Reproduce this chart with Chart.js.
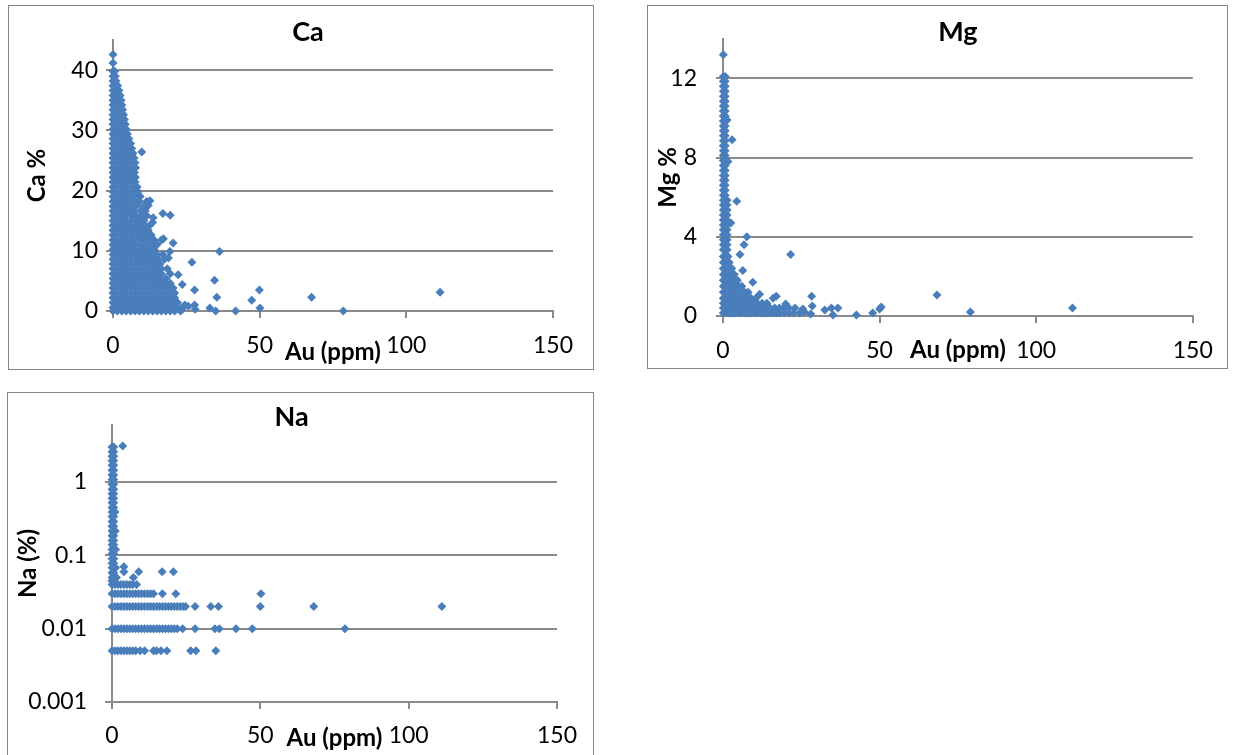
<!DOCTYPE html>
<html>
<head>
<meta charset="utf-8">
<script src="https://cdn.jsdelivr.net/npm/chart.js@4"></script>
<style>
  body { margin: 0; background: #fff; width: 1233px; height: 755px; overflow: hidden; position: relative; }
  .box { position: absolute; border: 1px solid #868686; box-sizing: border-box; }
  canvas { position: absolute; }
</style>
</head>
<body>
<div class="box" style="left:8px;top:5px;width:586px;height:365px"></div>
<div class="box" style="left:647px;top:5px;width:581px;height:364px"></div>
<div class="box" style="left:7px;top:392px;width:587px;height:370px"></div>
<canvas id="ca-chart" width="584" height="363" style="left:9px;top:6px"></canvas>
<canvas id="mg-chart" width="579" height="362" style="left:648px;top:6px"></canvas>
<canvas id="na-chart" width="585" height="363" style="left:8px;top:393px"></canvas>
<script>
// x axis (Au ppm), shared by all three panels
const auMin = 0;
const auMax = 150;
const auStep = 50;

// Ca % : dense part read row by row -> [Ca %, [Au ppm ...]]
const caRows = [
  [39.8, [0, 0.6]],
  [39.0, [0, 0.8]],
  [38.2, [0, 1]],
  [37.4, [0, 1, 1.6]],
  [36.6, [0, 1, 2]],
  [35.8, [0, 1.2, 2.4]],
  [35.0, [0, 1.5, 2.8]],
  [34.2, [0, 1.5, 3]],
  [33.4, [0, 1.5, 3.3]],
  [32.6, [0, 1.5, 3, 3.6]],
  [31.8, [0, 1.5, 3, 3.9]],
  [31.0, [0, 1.5, 3, 4.2]],
  [30.2, [0, 1.5, 3, 4.5]],
  [29.4, [0, 1.5, 3, 4.5, 4.9]],
  [28.6, [0, 1.5, 3, 4.5, 5.4]],
  [27.8, [0, 1.5, 3, 4.5, 6]],
  [27.0, [0, 1.5, 3, 4.5, 6, 6.4]],
  [26.2, [0, 1.5, 3, 4.5, 6, 6.8]],
  [25.4, [0, 1.5, 3, 4.5, 6, 7.2]],
  [24.6, [0, 1.5, 3, 4.5, 6, 7.5]],
  [23.8, [0, 1.5, 3, 4.5, 6, 7.7]],
  [23.0, [0, 1.5, 3, 4.5, 6, 7.3]],
  [22.2, [0, 1.5, 3, 4.5, 6, 7.6]],
  [21.4, [0, 1.5, 3, 4.5, 6, 7.5]],
  [20.6, [0, 1.5, 3, 4.5, 6, 7.5, 8.2]],
  [19.8, [0, 1.5, 3, 4.5, 6, 7.5, 8.5]],
  [19.0, [0, 1.5, 3, 4.5, 6, 7.5, 9.3]],
  [18.2, [0, 1.5, 3, 4.5, 6, 7.5, 9, 11.5]],
  [17.4, [0, 1.5, 3, 4.5, 6, 8, 10.5]],
  [16.6, [0, 1.5, 3, 4.5, 5.5, 7, 9.5, 11]],
  [15.8, [0, 1.5, 3, 4.5, 6.5, 8, 10, 11.5]],
  [15.0, [0, 1.5, 3, 4.5, 6, 7.5, 9, 10.5]],
  [14.2, [0, 1.5, 3, 4.5, 6, 8, 9.5, 11, 12.5]],
  [13.4, [0, 1.5, 3, 4.5, 5.5, 7, 9, 10.5, 12]],
  [12.6, [0, 1.5, 3, 4.5, 6, 7.5, 8.5, 10, 11.5, 13]],
  [11.8, [0, 1.5, 3, 4.5, 6, 7, 9, 10.5, 12, 14, 16.5]],
  [11.0, [0, 1.5, 3, 4.5, 6, 7.5, 9, 10.5, 12, 13.5, 15]],
  [10.2, [0, 1.5, 3, 4.5, 6, 7.5, 9.5, 11, 12.5, 14]],
  [9.4, [0, 1.5, 3, 4.5, 6, 7.5, 9, 10.5, 12, 13.5, 15, 17]],
  [8.6, [0, 1.5, 3, 4.5, 6, 8, 9.5, 11, 12.5, 14, 15.5, 17.5]],
  [7.8, [0, 1.5, 3, 4.5, 6, 7.5, 9, 10.5, 12, 13, 14.5, 16]],
  [7.0, [0, 1.5, 3, 4.5, 6, 7.5, 9, 10.5, 12, 13.5, 15, 16.5, 18.5]],
  [6.2, [0, 1.5, 3, 4.5, 6, 7.5, 9, 10.5, 12, 13.5, 15, 16.5, 19.5]],
  [5.4, [0, 1.5, 3, 4.5, 6, 7.5, 9, 10.5, 12, 13.5, 15, 16.5, 18]],
  [4.6, [0, 1.5, 3, 4.5, 6, 7.5, 9, 10.5, 12, 13.5, 15, 16.5, 18, 19.5]],
  [3.8, [0, 1.5, 3, 4.5, 6, 7.5, 9, 10.5, 12, 13.5, 15, 16.5, 18, 19.5, 20.5]],
  [3.0, [0, 1.5, 3, 4.5, 6, 7.5, 9, 10.5, 12, 13.5, 15, 16.5, 18, 19.5, 21]],
  [2.2, [0, 1.5, 3, 4.5, 6, 7.5, 9, 10.5, 12, 13.5, 15, 16.5, 18, 19.5, 21]],
  [1.4, [0, 1.5, 3, 4.5, 6, 7.5, 9, 10.5, 12, 13.5, 15, 16.5, 18, 19.5, 21, 22]],
  [0.6, [0, 1.5, 3, 4.5, 6, 7.5, 9, 10.5, 12, 13.5, 15, 16.5, 18, 19.5, 21, 22.5]],
  [0.0, [0, 1.5, 3, 4.5, 6, 7.5, 9, 10.5, 12, 13.5, 15, 16.5, 18, 19.5, 21, 23]],
];
// Ca % : single scattered points [Au ppm, Ca %]
const caOther = [
  [0, 42.6], [0, 41.2], [9.8, 26.4], [12.6, 18.3], [12, 17.5], [17, 16.2], [19.5, 15.9],
  [13.7, 15.5], [13.5, 14.7], [17.2, 12], [20.5, 11.3], [19.4, 9.9], [18.9, 8.8], [26.9, 8.1],
  [22.2, 6], [23.6, 4.4], [27.8, 3.5], [34.6, 5.1], [35.4, 2.3], [36.3, 9.9], [33, 0.5],
  [35, 0], [41.8, 0], [47.3, 1.8], [49.9, 3.5], [50.1, 0.5], [67.7, 2.3], [78.5, 0],
  [111.5, 3.1], [25.7, 0.8], [27.8, 1], [28, 0.3], [23.5, 0.2], [24.5, 1],
];
const caMax = 45;
const caStep = 10;

// Mg % : dense part [Mg %, [Au ppm ...]]
const mgRows = [
  [12.1, [0.1, 0.7]], [11.85, [0.1, 0.7]], [11.6, [0.1, 0.7]], [11.35, [0.1, 0.7]],
  [11.1, [0.1, 0.7]], [10.85, [0.1, 0.7]], [10.6, [0.1, 0.7]], [10.35, [0.1, 0.7]],
  [10.1, [0.1, 0.7]], [9.85, [0.1, 0.7]], [9.6, [0.1, 0.7]], [9.35, [0.1, 0.7]],
  [9.1, [0.1, 0.7]], [8.85, [0.1, 0.7]], [8.6, [0.1, 0.7]], [8.35, [0.1, 0.7]],
  [8.1, [0.1, 0.7]], [7.85, [0.1, 0.7]], [7.6, [0.1, 0.7]], [7.35, [0.1, 0.7]],
  [7.1, [0.1, 0.7]], [6.85, [0.1, 0.7]], [6.6, [0.1, 0.7]], [6.35, [0.1, 0.7]],
  [6.1, [0.1, 0.7]], [5.85, [0.1, 0.7, 1.3]], [5.6, [0.1, 0.7, 1.3]], [5.35, [0.1, 0.7, 1.3]],
  [5.1, [0.1, 0.7, 1.3]], [4.85, [0.1, 0.7, 1.3]], [4.6, [0.1, 0.7, 1.3]], [4.35, [0.1, 0.7, 1.3]],
  [4.1, [0.1, 0.7, 1.3]], [3.85, [0.1, 0.7, 1.3]], [3.6, [0.1, 0.7, 1.3]], [3.35, [0.1, 0.7, 1.3]],
  [3.0, [0.1, 0.8, 1.6]],
  [2.7, [0.1, 1, 2]],
  [2.4, [0.1, 1, 2, 2.8]],
  [2.1, [0.1, 1, 2, 3, 3.6]],
  [1.8, [0.1, 1, 2, 3, 4, 4.6]],
  [1.5, [0.1, 1, 2, 3, 4, 5, 6]],
  [1.2, [0.1, 1, 2, 3, 4, 5, 6, 7, 8]],
  [0.9, [0.1, 1, 2, 3, 4, 5, 6, 7, 8, 9, 10.5]],
  [0.65, [0.1, 1, 2, 3, 4, 5, 6, 7, 8, 9, 10, 11, 12.5, 14]],
  [0.4, [0.1, 1, 2, 3, 4, 5, 6, 7, 8, 9, 10, 11, 12, 13, 14, 15, 16.5, 18, 19.5, 21, 23]],
  [0.15, [0.1, 1, 2, 3, 4, 5, 6, 7, 8, 9, 10, 11, 12, 13, 14, 15, 16, 17, 18, 19.5, 21, 22.5, 24.5]],
];
const mgOther = [
  [0.1, 13.2], [2.9, 8.9], [1.3, 9.9], [1.6, 7.8], [4.4, 5.8], [2.5, 4.7],
  [7.6, 4.0], [6.7, 3.6], [5.4, 3.1], [21.6, 3.1], [6.3, 2.3], [9.5, 1.7],
  [11.7, 1.1], [17, 1.0], [28.3, 1.0], [68.3, 1.06], [34.6, 0.4], [36.7, 0.4], [35.1, 0.05],
  [42.6, 0.05], [47.8, 0.15], [50.5, 0.45], [50, 0.35], [28, 0.1], [28.5, 0.5], [26, 0.2],
  [79, 0.2], [111.6, 0.4], [16, 0.9], [20, 0.6], [25.5, 0.35], [32.5, 0.3],
];
const mgMax = 14;
const mgStep = 4;

// Na % (log axis) : dense part [Na %, [Au ppm ...]]
const naRows = [
  [3.0, [0, 0.6]], [2.6, [0, 0.6]], [2.25, [0, 0.6]], [1.95, [0, 0.6]], [1.7, [0, 0.6]],
  [1.45, [0, 0.6]], [1.25, [0, 0.6]], [1.08, [0, 0.6]], [0.93, [0, 0.6]], [0.8, [0, 0.6]],
  [0.69, [0, 0.6]], [0.6, [0, 0.6]], [0.52, [0, 0.6]], [0.45, [0, 0.6]], [0.39, [0, 0.6, 1]],
  [0.34, [0, 0.6]], [0.29, [0, 0.6]], [0.25, [0, 0.6]], [0.215, [0, 0.6, 1.1]], [0.185, [0, 0.6]],
  [0.16, [0, 0.6]], [0.14, [0, 0.6]], [0.12, [0, 0.6, 1.2]], [0.105, [0, 0.6]], [0.09, [0, 0.6]],
  [0.078, [0, 0.6]], [0.068, [0, 0.6, 1.2]], [0.058, [0, 0.6]], [0.05, [0, 0.6, 1.5]], [0.045, [0, 0.6]],
  [0.04, [0, 1, 2, 3, 4, 5, 6, 7, 8.3]],
  [0.03, [0, 1, 2, 3, 4, 5, 6, 7, 8, 9, 10, 11, 12, 13, 14, 17, 21.5, 50.2]],
  [0.02, [0, 1, 2, 3, 4, 5, 6, 7, 8, 9, 10, 11, 12, 13, 14, 15, 16, 17, 18, 19, 20, 21, 22, 23, 24, 24.8,
    28, 33.3, 35.9, 50, 68, 111.2]],
  [0.01, [0, 1, 2, 3, 4, 5, 6, 7, 8, 9, 10, 11, 12, 13, 14, 15, 16, 17, 18, 19, 20, 21, 22, 23.8,
    28, 34.7, 36.2, 41.8, 47.3, 78.5]],
  [0.005, [0, 1, 2, 3, 4, 5, 6, 7, 8, 9.5, 11, 14, 15, 16.5, 18.5, 26.5, 28.3, 35]],
];
const naOther = [
  [3.6, 3.1], [4, 0.07], [4, 0.06], [9, 0.06], [16.9, 0.06], [20.7, 0.06], [7.2, 0.05],
];
const naMin = 0.001;
const naMax = 6;
const naTicks = [0.001, 0.01, 0.1, 1];

const blue = "#4a7ebb";
const grey = "#8a8a8a";

Chart.defaults.font.family = "Lato";
Chart.defaults.color = "#000";

function toPoints(rows, other) {
  const pts = [];
  for (const [y, xs] of rows) {
    for (const x of xs) pts.push({ x: x, y: y });
  }
  for (const [x, y] of other) pts.push({ x: x, y: y });
  return pts;
}

function scatterChart(id, points, yScale, o) {
  return new Chart(document.getElementById(id), {
    type: "scatter",
    data: {
      datasets: [
        {
          data: points,
          pointStyle: "rectRot",
          pointRadius: 4.5,
          pointBorderWidth: 0,
          backgroundColor: blue,
          borderColor: blue,
          clip: false,
        },
      ],
    },
    options: {
      responsive: false,
      animation: false,
      events: [],
      layout: { padding: { top: 0, left: o.left, right: o.right, bottom: 0 } },
      plugins: {
        legend: { display: false },
        tooltip: { enabled: false },
        title: {
          display: true,
          text: o.title,
          fullSize: o.titleFull,
          font: { size: 27, weight: "bold" },
          padding: { top: o.titleTop, bottom: o.titleBottom },
        },
      },
      scales: {
        x: {
          type: "linear",
          min: auMin,
          max: auMax,
          ticks: { stepSize: auStep, padding: o.xPad, font: { size: 23 } },
          grid: { drawOnChartArea: false, color: grey, lineWidth: 2, tickLength: 7 },
          border: { color: grey, width: 2 },
          title: {
            display: true,
            text: "Au (ppm)",
            font: { size: 24, weight: "bold" },
            padding: { top: 0, bottom: o.xTitlePad },
          },
          afterFit: (s) => { s.height = o.xHeight; },
        },
        y: Object.assign(
          {
            grid: { color: grey, lineWidth: 2, tickLength: 7 },
            border: { color: grey, width: 2 },
            title: {
              display: true,
              text: o.yTitle,
              font: { size: 24, weight: "bold" },
              padding: { top: o.yTitlePad, bottom: 0 },
            },
            afterFit: (s) => { s.width = o.yWidth; },
          },
          yScale
        ),
      },
    },
  });
}

scatterChart("ca-chart", toPoints(caRows, caOther), {
  type: "linear",
  min: 0,
  max: caMax,
  ticks: { stepSize: caStep, includeBounds: false, padding: 8, font: { size: 23 } },
}, {
  title: "Ca", yTitle: "Ca %",
  left: 54, right: 40, titleFull: true, titleTop: 9.8, titleBottom: -8.2,
  yWidth: 50, yTitlePad: -40.4,
  xHeight: 58, xPad: 14.2, xTitlePad: 2.6,
});

scatterChart("mg-chart", toPoints(mgRows, mgOther), {
  type: "linear",
  min: 0,
  max: mgMax,
  ticks: { stepSize: mgStep, includeBounds: false, padding: 19, font: { size: 23 } },
}, {
  title: "Mg", yTitle: "Mg %",
  left: 0, right: 32, titleFull: false, titleTop: 9.3, titleBottom: -9.7,
  yWidth: 75, yTitlePad: 5.6,
  xHeight: 52, xPad: 14.2, xTitlePad: 3.6,
});

scatterChart("na-chart", toPoints(naRows, naOther), {
  type: "logarithmic",
  min: naMin,
  max: naMax,
  afterBuildTicks: (s) => { s.ticks = naTicks.map((v) => ({ value: v })); },
  ticks: { padding: 18, font: { size: 23 }, callback: (v) => String(v) },
}, {
  title: "Na", yTitle: "Na (%)",
  left: 18, right: 36, titleFull: true, titleTop: 7.8, titleBottom: -8.2,
  yWidth: 86, yTitlePad: -12.4,
  xHeight: 54, xPad: 13.2, xTitlePad: 3.6,
});
</script>
</body>
</html>
